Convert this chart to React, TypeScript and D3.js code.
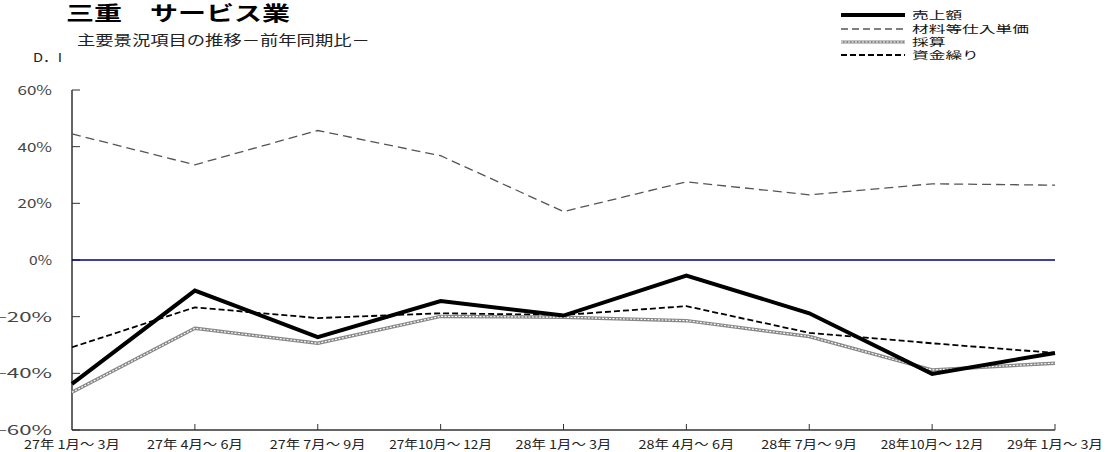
import React from "react";
import * as d3 from "d3";

const periods = [
  "27年 1月～ 3月",
  "27年 4月～ 6月",
  "27年 7月～ 9月",
  "27年10月～ 12月",
  "28年 1月～ 3月",
  "28年 4月～ 6月",
  "28年 7月～ 9月",
  "28年10月～ 12月",
  "29年 1月～ 3月",
];

const sales = [-43.7, -10.8, -27.2, -14.5, -19.6, -5.5, -18.8, -40.2, -32.8];
const materials = [44.5, 33.6, 45.7, 36.8, 17.1, 27.6, 23.0, 26.9, 26.4];
const profit = [-46.7, -24.1, -29.4, -19.9, -20.2, -21.4, -27.0, -38.8, -36.4];
const funds = [-30.8, -16.7, -20.5, -18.8, -19.4, -16.3, -25.7, -29.4, -32.8];

const yTicks = [60, 40, 20, 0, -20, -40, -60];

const legendItems = ["売上額", "材料等仕入単価", "採算", "資金繰り"];

const W = 1108;
const H = 452;
const FONT = "'Noto Sans CJK JP', 'Noto Sans', sans-serif";

// width of a string set in a fixed-pitch gothic face: full-width glyphs take one
// em, everything else half an em
function pitchWidth(s: string, em: number): number {
  let w = 0;
  for (const ch of s) {
    w += ch.charCodeAt(0) > 0xff ? em : em / 2;
  }
  return w;
}

function WideText(props: {
  x: number;
  y: number;
  text: string;
  size: number;
  em: number;
  anchor?: "start" | "middle" | "end";
  fill?: string;
  weight?: string;
}) {
  const { x, y, text, size, em, anchor = "start", fill = "#222", weight = "normal" } = props;
  return (
    <text
      x={x}
      y={y}
      fontSize={size}
      fill={fill}
      fontWeight={weight}
      textAnchor={anchor}
      textLength={pitchWidth(text, em)}
      lengthAdjust="spacingAndGlyphs"
      style={{ whiteSpace: "pre" }}
    >
      {text}
    </text>
  );
}

export default function App() {
  const x = d3.scalePoint<number>().domain(d3.range(periods.length)).range([72, 1055]);
  const y = d3.scaleLinear().domain([-60, 60]).range([430, 90]);
  const line = d3
    .line<number>()
    .x((_, i) => x(i) as number)
    .y((v) => y(v));

  const legendY = [15, 29, 42, 55];
  const legendX0 = 841;
  const legendX1 = 905;

  const fmt = (t: number) => (t === 0 ? "0%" : t < 0 ? `−${-t}%` : `${t}%`);

  return (
    <svg
      width={W}
      height={H}
      style={{ position: "absolute", left: 0, top: 0, background: "#fff" }}
      fontFamily={FONT}
    >
      {/* titles */}
      <WideText x={66} y={21} text="三重　サービス業" size={20} em={28} fill="#000" weight="bold" />
      <WideText x={77} y={45} text="主要景況項目の推移－前年同期比－" size={14} em={18.3} fill="#222" />
      <WideText x={33} y={62} text="D．I" size={12} em={14.5} fill="#222" />

      {/* legend */}
      {legendItems.map((name, i) => {
        const ly = legendY[i];
        let stroke: React.ReactNode;
        if (i === 0) {
          stroke = <line x1={legendX0} x2={legendX1} y1={ly} y2={ly} stroke="#000" strokeWidth={4} />;
        } else if (i === 1) {
          stroke = (
            <line x1={legendX0} x2={legendX1} y1={ly} y2={ly} stroke="#555" strokeWidth={1.3} strokeDasharray="7,4" />
          );
        } else if (i === 2) {
          stroke = (
            <g>
              <line x1={legendX0} x2={legendX1} y1={ly} y2={ly} stroke="#888" strokeWidth={3.2} />
              <line x1={legendX0} x2={legendX1} y1={ly} y2={ly} stroke="#fff" strokeWidth={1.1} strokeDasharray="2,1.5" />
            </g>
          );
        } else {
          stroke = (
            <line x1={legendX0} x2={legendX1} y1={ly} y2={ly} stroke="#000" strokeWidth={1.8} strokeDasharray="6,3" />
          );
        }
        return (
          <g key={name}>
            {stroke}
            <WideText x={912} y={ly + 4} text={name} size={10.5} em={16.7} fill="#111" />
          </g>
        );
      })}

      {/* axes */}
      <line x1={72} x2={72} y1={y(60)} y2={y(-60)} stroke="#333" strokeWidth={1.5} />
      <line x1={72} x2={1055} y1={y(-60)} y2={y(-60)} stroke="#333" strokeWidth={1.5} />
      {yTicks.map((t) => (
        <g key={t}>
          <line x1={72} x2={80} y1={y(t)} y2={y(t)} stroke="#333" strokeWidth={1} />
          <WideText x={52} y={y(t) + 5} text={fmt(t)} size={12.5} em={23} anchor="end" fill="#444" />
        </g>
      ))}
      {periods.map((p, i) => (
        <g key={p}>
          {i > 0 && (
            <line x1={x(i)} x2={x(i)} y1={y(-60)} y2={y(-60) - 6} stroke="#333" strokeWidth={1} />
          )}
          <WideText x={x(i) as number} y={449} text={p} size={12} em={13.7} anchor="middle" fill="#222" />
        </g>
      ))}

      {/* zero line */}
      <line x1={72} x2={1055} y1={y(0)} y2={y(0)} stroke="#000080" strokeWidth={1.3} />

      {/* series */}
      <path d={line(materials) ?? ""} fill="none" stroke="#555" strokeWidth={1.3} strokeDasharray="9,5" />
      <path d={line(funds) ?? ""} fill="none" stroke="#000" strokeWidth={1.8} strokeDasharray="6,3" />
      <path d={line(profit) ?? ""} fill="none" stroke="#888" strokeWidth={3.5} strokeLinejoin="round" />
      <path d={line(profit) ?? ""} fill="none" stroke="#fff" strokeWidth={1.1} strokeDasharray="2,1.5" />
      <path d={line(sales) ?? ""} fill="none" stroke="#000" strokeWidth={4} strokeLinejoin="miter" />
    </svg>
  );
}
